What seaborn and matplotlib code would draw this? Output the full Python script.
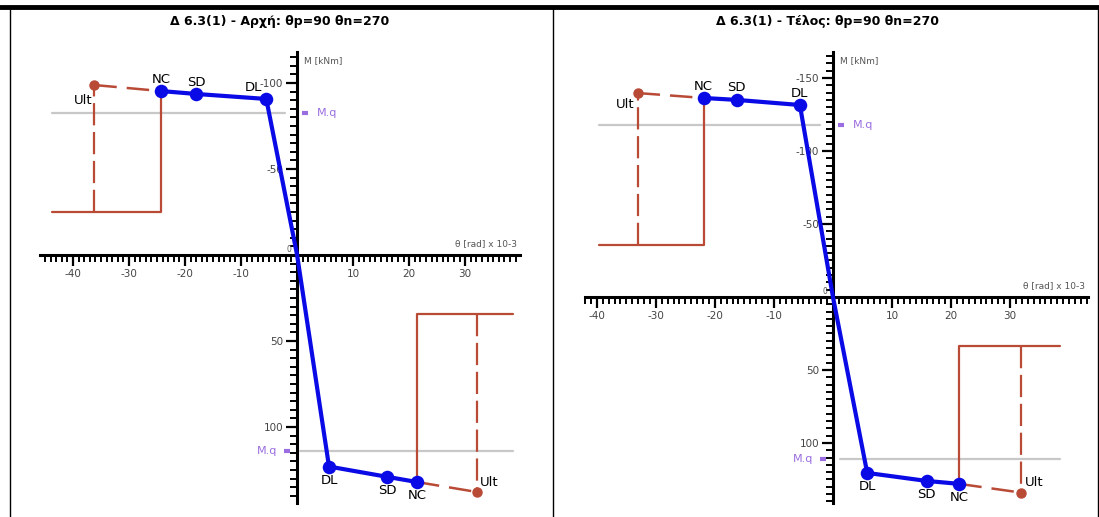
import matplotlib
matplotlib.use("Agg")
import matplotlib.pyplot as plt
from matplotlib.lines import Line2D
from matplotlib.ticker import MultipleLocator, FuncFormatter, FixedLocator
from matplotlib.transforms import offset_copy
import seaborn as sns
import pandas as pd

sns.set_theme(style="white")
plt.rcParams['font.family'] = ['DejaVu Sans']
plt.rcParams['axes.unicode_minus'] = False

# ---------------- data ----------------
point_labels = ["Ult", "NC", "SD", "DL", "", "DL", "SD", "NC", "Ult"]
x_tick_labels = [-40, -30, -20, -10, 10, 20, 30]

left_title = "Δ 6.3(1) - Αρχή: θp=90 θn=270"
left_theta = [-36.2, -24.3, -18.0, -5.5, 0.0, 5.7, 16.1, 21.4, 32.1]
left_M = [-98.8, -95.3, -93.6, -90.7, 0.0, 123.0, 129.0, 132.0, 137.8]
left_Mq = [-82.6, 114.0]
left_box = [-25.0, 34.3]
left_y_ticks = [-100, -50, 50, 100]
left_xlim = (-45.9, 39.8)
left_ylim = (144.2, -118.0)
left_ext = [-43.7, -2.1, 0.5, 38.6]

right_title = "Δ 6.3(1) - Τέλος: θp=90 θn=270"
right_theta = [-33.1, -21.9, -16.3, -5.6, 0.0, 5.8, 15.9, 21.4, 31.9]
right_M = [-139.7, -136.3, -135.0, -131.5, 0.0, 120.5, 126.0, 128.0, 134.0]
right_Mq = [-117.8, 111.0]
right_box = [-35.6, 33.6]
right_y_ticks = [-150, -100, -50, 50, 100]
right_xlim = (-42.0, 43.2)
right_ylim = (141.1, -167.8)
right_ext = [-39.6, -2.2, 1.2, 38.5]

BLUE = "#0a0ae6"
RED = "#b84a36"
PURPLE = "#9a6ee0"
GRAY = "#c8c8c8"

W, H = 1099, 517
fig = plt.figure(figsize=(W / 100, H / 100), dpi=100)
fig.patch.set_facecolor("white")


def draw_panel(px0, px1, title, title_x, theta, M, Mq, box, yticks, xlim, ylim, ext, lab_offsets):
    ax = fig.add_axes([px0 / W, 1 - 503 / H, (px1 - px0) / W, 451 / H])
    ax.set_facecolor("none")
    ax.set_xlim(*xlim)
    ax.set_ylim(*ylim)
    for s in ["top", "right"]:
        ax.spines[s].set_visible(False)
    for s in ["left", "bottom"]:
        ax.spines[s].set_position(("data", 0))
        ax.spines[s].set_color("black")
        ax.spines[s].set_linewidth(2.2)
        ax.spines[s].set_zorder(1)
    ax.xaxis.set_major_locator(FixedLocator(x_tick_labels))
    ax.xaxis.set_minor_locator(MultipleLocator(1))
    ax.yaxis.set_major_locator(FixedLocator(yticks))
    ax.yaxis.set_minor_locator(MultipleLocator(5))
    fmt = FuncFormatter(lambda v, p: f"{v:.0f}")
    ax.xaxis.set_major_formatter(fmt)
    ax.yaxis.set_major_formatter(fmt)
    ax.tick_params(which="major", direction="out", length=8, width=1.6,
                   color="black", labelsize=7.5, labelcolor="#444444", pad=2)
    ax.tick_params(which="minor", direction="out", length=5, width=1.4, color="black")
    ax.tick_params(axis="both", which="both", bottom=True, left=True)
    ax.grid(False)

    # gray M.q lines
    ax.plot([ext[0], ext[1]], [Mq[0], Mq[0]], color=GRAY, lw=1.6, zorder=2)
    ax.plot([ext[2], ext[3]], [Mq[1], Mq[1]], color=GRAY, lw=1.6, zorder=2)
    # red boxes (solid at NC, dashed at Ult)
    ax.plot([ext[0], theta[1], theta[1]], [box[0], box[0], M[1]], color=RED, lw=1.6, zorder=3)
    ax.plot([theta[0], theta[0]], [box[0], M[0]], color=RED, lw=1.6, ls=(0, (10, 3)), zorder=3)
    ax.plot([ext[3], theta[7], theta[7]], [box[1], box[1], M[7]], color=RED, lw=1.6, zorder=3)
    ax.plot([theta[8], theta[8]], [box[1], M[8]], color=RED, lw=1.6, ls=(0, (10, 3)), zorder=3)
    # dashed Ult-NC segments
    ax.plot([theta[0], theta[1]], [M[0], M[1]], color=RED, lw=1.8, ls=(0, (9, 4)), zorder=3)
    ax.plot([theta[7], theta[8]], [M[7], M[8]], color=RED, lw=1.8, ls=(0, (9, 4)), zorder=3)
    ax.plot([theta[0], theta[8]], [M[0], M[8]], ls="none", marker="o", ms=6.5, color=RED, zorder=5)

    # blue capacity curve
    df = pd.DataFrame({"theta": theta[1:8], "M": M[1:8]})
    sns.lineplot(data=df, x="theta", y="M", sort=False, estimator=None, ax=ax,
                 color=BLUE, lw=3.0, zorder=4)
    pts = pd.DataFrame({"theta": [theta[i] for i in (1, 2, 3, 5, 6, 7)],
                        "M": [M[i] for i in (1, 2, 3, 5, 6, 7)]})
    sns.scatterplot(data=pts, x="theta", y="M", ax=ax, color=BLUE, s=95,
                    edgecolor=BLUE, linewidth=0, zorder=6)
    ax.set_xlabel("")
    ax.set_ylabel("")

    for i in range(len(theta)):
        if point_labels[i]:
            ax.annotate(point_labels[i], (theta[i], M[i]), textcoords="offset points",
                        xytext=lab_offsets[i], ha="center", va="center",
                        fontsize=9.5, color="black", zorder=7)

    # M.q markers and labels
    ax.annotate("M.q", (0, Mq[0]), textcoords="offset points", xytext=(14, 0),
                ha="left", va="center", fontsize=8, color=PURPLE)
    ax.annotate("M.q", (0, Mq[1]), textcoords="offset points", xytext=(-14, 0),
                ha="right", va="center", fontsize=8, color=PURPLE)
    tr_r = offset_copy(ax.transData, fig=fig, x=6, y=0, units="points")
    tr_l = offset_copy(ax.transData, fig=fig, x=-7, y=0, units="points")
    ax.plot([0], [Mq[0]], marker="_", ms=5, mew=3, color=PURPLE, transform=tr_r,
            clip_on=False, zorder=6)
    ax.plot([0], [Mq[1]], marker="_", ms=5, mew=3, color=PURPLE, transform=tr_l,
            clip_on=False, zorder=6)

    # axis captions
    ax.annotate("M [kNm]", (0, ylim[1]), textcoords="offset points", xytext=(5, -6),
                ha="left", va="center", fontsize=6.5, color="#555555")
    ax.annotate("θ [rad] x 10-3", (xlim[1], 0), textcoords="offset points", xytext=(-2, 8),
                ha="right", va="center", fontsize=6.5, color="#555555")
    ax.annotate("0", (0, 0), textcoords="offset points", xytext=(-6, 4),
                ha="center", va="center", fontsize=5.5, color="#555555")

    fig.text(title_x / W, 1 - 22 / H, title, ha="center", va="center",
             fontsize=9, fontweight="bold", color="black")
    return ax


left_offsets = [(-8, -11), (0, 8), (0, 8), (-9, 8), (0, 0), (0, -10), (0, -10), (0, -10), (9, 7)]
right_offsets = [(-9, -8), (0, 8), (0, 9), (0, 8), (0, 0), (0, -10), (0, -10), (0, -10), (9, 7)]

draw_panel(40, 520, left_title, 280, left_theta, left_M, left_Mq, left_box, left_y_ticks,
           left_xlim, left_ylim, left_ext, left_offsets)
draw_panel(585, 1088, right_title, 827, right_theta, right_M, right_Mq, right_box, right_y_ticks,
           right_xlim, right_ylim, right_ext, right_offsets)

# frame decorations
fig.add_artist(Line2D([0, 1], [1 - 7 / H, 1 - 7 / H], color="black", lw=3.5))
fig.add_artist(Line2D([10 / W, 10 / W], [0, 1 - 9 / H], color="black", lw=1.0))
fig.add_artist(Line2D([553 / W, 553 / W], [0, 1 - 9 / H], color="black", lw=1.0))
fig.add_artist(Line2D([1098 / W, 1098 / W], [0, 1 - 9 / H], color="black", lw=1.0))

fig.savefig("out.png", dpi=100, facecolor="white")
